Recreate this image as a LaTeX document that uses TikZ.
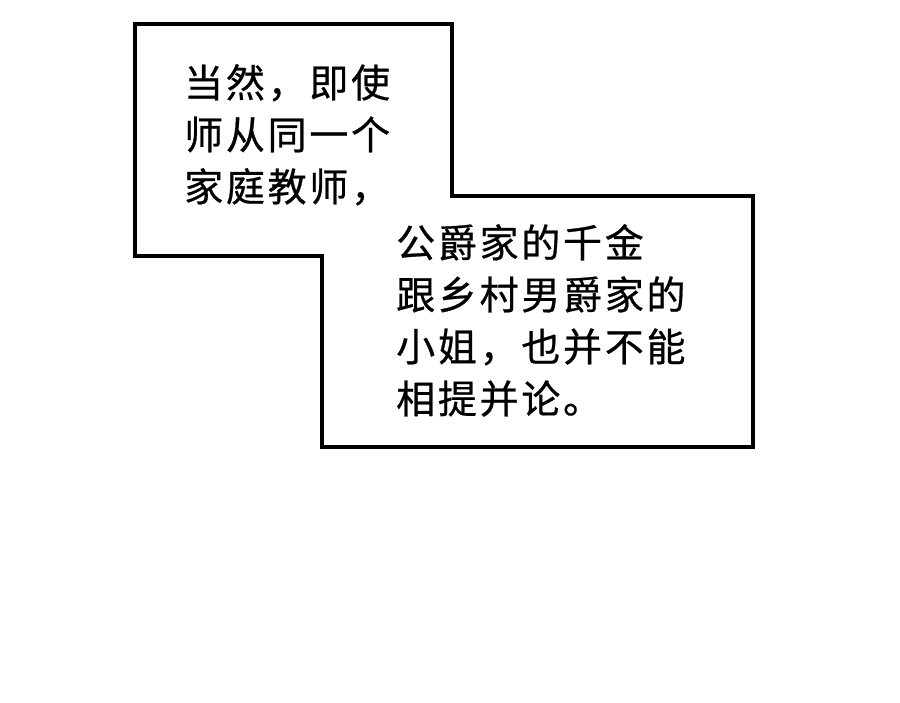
\documentclass[tikz,border=0pt]{standalone}
\usepackage{fontspec}
\newfontfamily\cjk[LetterSpace=7,FakeBold=0.6]{Noto Sans CJK SC}
\begin{document}
\begin{tikzpicture}[x=1pt,y=-1pt,
  bubbletext/.style={inner sep=0pt,anchor=north west,align=left,
    font=\cjk\fontsize{39}{52}\selectfont}]
\useasboundingbox[fill=white] (0,0) rectangle (900,703);
\draw[line width=4pt,line join=miter,fill=white]
  (135,24) -- (452,24) -- (452,196) -- (753,196) -- (753,447)
  -- (322,447) -- (322,256) -- (135,256) -- cycle;
\node[bubbletext] (t1) at (184,64) {当然，即使\\师从同一个\\家庭教师，};
\node[bubbletext] (t2) at (396,224) {公爵家的千金\\跟乡村男爵家的\\小姐，也并不能\\相提并论。};
\end{tikzpicture}
\end{document}
